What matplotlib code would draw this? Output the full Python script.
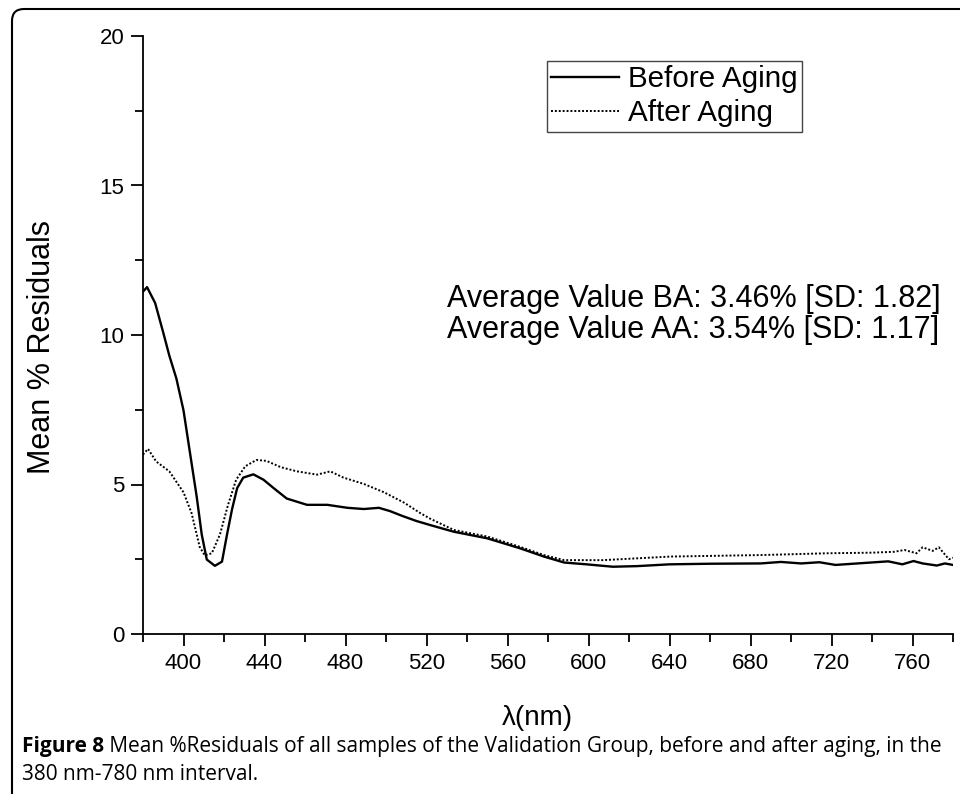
import matplotlib
matplotlib.use('Agg')
import matplotlib.pyplot as plt
from matplotlib.ticker import MultipleLocator
from matplotlib.patches import FancyBboxPatch
from matplotlib.transforms import IdentityTransform

plt.rcParams['font.family'] = ['Liberation Sans', 'DejaVu Sans']
CAP_FONT = ['Open Sans', 'DejaVu Sans']

# mean % residuals (nm, %)
before_nm = [380, 382, 386, 390, 393, 396.5, 400, 403, 406.5, 409, 411.5, 415.5, 419, 421.5,
             424, 426.5, 429.5, 434.5, 439.5, 444.5, 451, 461, 471, 481, 489, 496.5, 502, 508,
             515, 522, 533.5, 550, 566, 578, 588, 599, 612, 624, 640, 660, 685, 695, 705, 714,
             722, 735, 748, 755, 760.5, 765, 772, 776, 780]
before_val = [11.45, 11.6, 11.07, 10.08, 9.31, 8.54, 7.48, 6.15, 4.60, 3.33, 2.49, 2.28, 2.42, 3.33,
              4.18, 4.88, 5.23, 5.34, 5.16, 4.88, 4.53, 4.32, 4.32, 4.22, 4.18, 4.22, 4.11, 3.95,
              3.78, 3.64, 3.42, 3.20, 2.87, 2.59, 2.39, 2.33, 2.25, 2.27, 2.33, 2.35, 2.36, 2.41,
              2.36, 2.40, 2.31, 2.37, 2.43, 2.33, 2.44, 2.36, 2.29, 2.36, 2.31]

after_nm = [380, 382.5, 386.5, 393, 400, 404, 408, 410.5, 414, 418, 422, 426, 430.5, 436, 441,
            448, 456, 466, 472.5, 479, 489, 499, 509, 517, 522, 533.5, 550, 566, 578, 588, 607,
            640.5, 685, 718, 740, 751, 756, 762, 765, 770, 773, 775.5, 778, 780]
after_val = [6.0, 6.19, 5.77, 5.44, 4.74, 4.04, 2.91, 2.63, 2.70, 3.33, 4.32, 5.16, 5.61, 5.82,
             5.79, 5.58, 5.44, 5.33, 5.44, 5.23, 5.02, 4.74, 4.39, 4.04, 3.85, 3.48, 3.26, 2.92,
             2.64, 2.47, 2.47, 2.59, 2.64, 2.70, 2.72, 2.75, 2.81, 2.70, 2.90, 2.78, 2.90, 2.70,
             2.50, 2.55]

notes = ['Average Value BA: 3.46% [SD: 1.82]', 'Average Value AA: 3.54% [SD: 1.17]']

W, H = 960, 794
fig = plt.figure(figsize=(W / 100, H / 100), dpi=100)
ax = fig.add_axes([143 / W, (H - 634) / H, (953 - 143) / W, (634 - 36) / H])

ax.plot(before_nm, before_val, color='black', lw=1.7, label='Before Aging')
ax.plot(after_nm, after_val, color='black', lw=1.4, linestyle=(0, (1, 1)), label='After Aging')

ax.set_xlim(380, 780)
ax.set_ylim(0, 20)
ax.xaxis.set_minor_locator(MultipleLocator(20))
ax.set_xticks(range(400, 761, 40))
ax.yaxis.set_major_locator(MultipleLocator(5))
ax.yaxis.set_minor_locator(MultipleLocator(2.5))
for s in ['top', 'right']:
    ax.spines[s].set_visible(False)
for s in ['left', 'bottom']:
    ax.spines[s].set_linewidth(1.3)
ax.tick_params(which='major', direction='out', length=8.5, width=1.3, labelsize=16, pad=5)
ax.tick_params(which='minor', direction='out', length=5.5, width=1.3)

fig.text(42 / W, 1 - 347 / H, 'Mean % Residuals', rotation=90, fontsize=22,
         ha='center', va='center')
fig.text(537 / W, 1 - 718 / H, 'λ(nm)', fontsize=20, ha='center', va='center')

fig.text(447 / W, 1 - 307 / H, notes[0], fontsize=22, ha='left', va='baseline')
fig.text(447 / W, 1 - 338 / H, notes[1], fontsize=22, ha='left', va='baseline')

leg = ax.legend(loc='upper left', bbox_to_anchor=(547 / W, 1 - 61 / H),
                bbox_transform=fig.transFigure, fontsize=21.3, fancybox=False,
                edgecolor='#444444', framealpha=1, borderpad=0.15, borderaxespad=0,
                handlelength=2.3, handletextpad=0.3, labelspacing=0.2)
leg.get_frame().set_linewidth(1.0)

# caption
cap1 = fig.text(22 / W, 1 - 752 / H, 'Figure 8', fontsize=15, fontweight='bold',
                family=CAP_FONT, ha='left', va='baseline')
ax.annotate(' Mean %Residuals of all samples of the Validation Group, before and after aging, in the',
            xy=(1, 0), xycoords=cap1, va='bottom', ha='left', fontsize=15,
            family=CAP_FONT, annotation_clip=False)
fig.text(22 / W, 1 - 780 / H, '380 nm-780 nm interval.', fontsize=15,
         family=CAP_FONT, ha='left', va='baseline')

# rounded frame around the figure panel
frame = FancyBboxPatch((12, -40), 1000, H - 9 + 40, boxstyle='round,pad=0,rounding_size=12',
                       transform=IdentityTransform(), fill=False, lw=1.5, edgecolor='black')
fig.add_artist(frame)

fig.savefig('out.png', dpi=100)
